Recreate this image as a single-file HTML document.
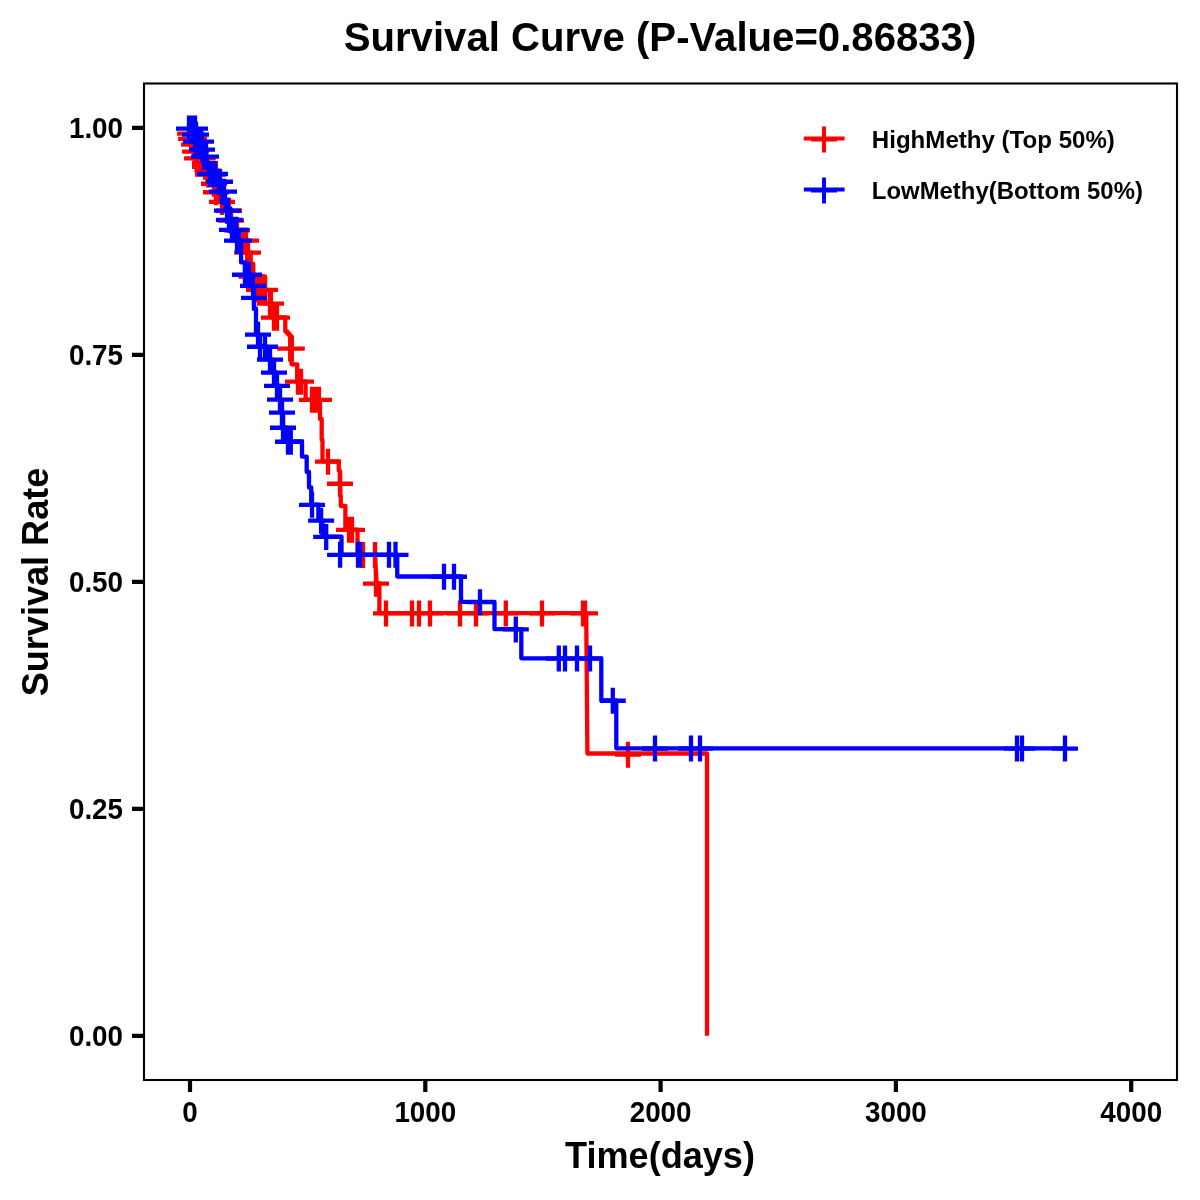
<!DOCTYPE html>
<html lang="en">
<head>
<meta charset="utf-8">
<title>Survival Curve (P-Value=0.86833)</title>
<style>
html,body{margin:0;padding:0;background:#fff;}
body{width:1200px;height:1200px;overflow:hidden;}
svg{display:block;}
text{font-family:"Liberation Sans",sans-serif;font-weight:bold;fill:#000;}
.title{font-size:40.15px;}
.axt{font-size:36.1px;}
.tick{font-size:27.8px;}
.leg{font-size:24.1px;}
</style>
</head>
<body>
<svg width="1200" height="1200" viewBox="0 0 1200 1200">
<rect x="0" y="0" width="1200" height="1200" fill="#ffffff"/>
<text class="title" transform="translate(660 51.2) scale(1 1.02)" text-anchor="middle">Survival Curve (P-Value=0.86833)</text>
<g fill="none" stroke-linejoin="round" stroke-linecap="butt">
<path d="M190 128.3V133.4H191V138.7H194V144.3H194.5V151.3H196.5V158.2H203V162.8V166.6H207V170.3H208V174.3H213V183.5H215V192H219V201.7H225V210.5H230V220.4H234V230H243.5V240.4H246.5V252.4H250.75V264H253.3V276.3H265V289.6V303.4H272V317.4H285.3V331.5H287.4V333.7H289.4V336H291.2V348.3H291.5V364.3H297.2V381.4H305.6V399.6H320V419H321.7V440H322.5V461.4H338.75V470.8H340V483.5H340.2V495.8H340.8V506H345.4V529.6H357.5V554.6M375 554.6L376.5 583.4H379.4V613.2H586.2L587.4 753.5H707V1035.8" stroke="#ff0000" stroke-width="4.3"/>
<path d="M177.1 133.65h26M190.1 120.65v26M178 133.65h26M191 120.65v26M178.1 138.95h26M191.1 125.95v26M181 138.95h26M194 125.95v26M181.1 144.55h26M194.1 131.55v26M182.1 151.55h26M195.1 138.55v26M183 151.55h26M196 138.55v26M184.1 158.45h26M197.1 145.45v26M189.75 158.45h26M202.75 145.45v26M192 163.05h26M205 150.05v26M192 166.85h26M205 153.85v26M194.5 170.55h26M207.5 157.55v26M195 174.55h26M208 161.55v26M199.8 174.55h26M212.8 161.55v26M201 183.75h26M214 170.75v26M203 192.25h26M216 179.25v26M209 201.95h26M222 188.95v26M216 210.75h26M229 197.75v26M218 220.65h26M231 207.65v26M224 230.25h26M237 217.25v26M230.5 240.65h26M243.5 227.65v26M233 240.65h26M246 227.65v26M234.2 252.65h26M247.2 239.65v26M235 252.65h26M248 239.65v26M238.5 276.55h26M251.5 263.55v26M246 289.85h26M259 276.85v26M249 289.85h26M262 276.85v26M252 289.85h26M265 276.85v26M257 303.65h26M270 290.65v26M258 303.65h26M271 290.65v26M261 317.65h26M274 304.65v26M262.5 317.65h26M275.5 304.65v26M264 317.65h26M277 304.65v26M277.2 348.55h26M290.2 335.55v26M278.8 348.55h26M291.8 335.55v26M285 381.65h26M298 368.65v26M288 381.65h26M301 368.65v26M299 399.85h26M312 386.85v26M301 399.85h26M314 386.85v26M303 399.85h26M316 386.85v26M306 399.85h26M319 386.85v26M315 461.65h26M328 448.65v26M327 483.75h26M340 470.75v26M336 529.85h26M349 516.85v26M339 529.85h26M352 516.85v26M363 542v26M375 542v26M363 583.65h26M376 570.65v26M373 613.45h26M386 600.45v26M399 613.45h26M412 600.45v26M406 613.45h26M419 600.45v26M417 613.45h26M430 600.45v26M447 613.45h26M460 600.45v26M463 613.45h26M476 600.45v26M492.8 613.45h26M505.8 600.45v26M529 613.45h26M542 600.45v26M570 613.45h26M583 600.45v26M572 613.45h26M585 600.45v26M615 754.7h26M628 741.7v26M257.2 277L257.2 302" stroke="#ff0000" stroke-width="4.3"/>
<path d="M190 128.3H195.5V134.3H197V141.4H201.5V149.3H203.5V156.4H207V165H209V173.75H216V181.5H221V191.4H225V201H226V210.4H229V219.6H231V229.6H237V240.4H241.1V262.4H245V274.5H251V285.6H253.5V297.6H254V308.5H256V334.4H259V346.5H266V359.3H272V372.3H276V385.6H279V399.4H281V412.3H283V427.5H286V441.5H302V456.7H306.7V472H309V487.5H311.25V504.6H318.4V520.4H322.5V536.7H341.5V554.6H397.25V576.5H461V601.9H494.5V629.2H521.3V658.3H601.3V700.5H616.3V748.3H1065" stroke="#0000ff" stroke-width="4.3"/>
<path d="M176 128.55h26M189 115.55v26M178 128.55h26M191 115.55v26M180 128.55h26M193 115.55v26M182 128.55h26M195 115.55v26M182 134.55h26M195 121.55v26M183 134.55h26M196 121.55v26M183 141.65h26M196 128.65v26M185 141.65h26M198 128.65v26M188 141.65h26M201 128.65v26M189 149.55h26M202 136.55v26M191 156.65h26M204 143.65v26M193 156.65h26M206 143.65v26M197 174h26M210 161v26M199 174h26M212 161v26M202 174h26M215 161v26M206 181.75h26M219 168.75v26M207 181.75h26M220 168.75v26M209 191.65h26M222 178.65v26M211 191.65h26M224 178.65v26M214 210.65h26M227 197.65v26M215 210.65h26M228 197.65v26M216 219.85h26M229 206.85v26M217 219.85h26M230 206.85v26M219 229.85h26M232 216.85v26M221 229.85h26M234 216.85v26M223 229.85h26M236 216.85v26M224 240.65h26M237 227.65v26M226 240.65h26M239 227.65v26M232 274.75h26M245 261.75v26M234 274.75h26M247 261.75v26M236 274.75h26M249 261.75v26M240 285.85h26M253 272.85v26M241 297.85h26M254 284.85v26M245 334.65h26M258 321.65v26M247 346.75h26M260 333.75v26M252 346.75h26M265 333.75v26M257 359.55h26M270 346.55v26M261 372.55h26M274 359.55v26M264 385.85h26M277 372.85v26M267 399.65h26M280 386.65v26M269 412.55h26M282 399.55v26M270 427.75h26M283 414.75v26M275 441.75h26M288 428.75v26M277.8 441.75h26M290.8 428.75v26M299 504.85h26M312 491.85v26M308.1 520.65h26M321.1 507.65v26M313.2 536.95h26M326.2 523.95v26M327.1 554.85h26M340.1 541.85v26M345 554.85h26M358 541.85v26M347 554.85h26M360 541.85v26M376 554.85h26M389 541.85v26M382.5 554.85h26M395.5 541.85v26M431 576.75h26M444 563.75v26M441 576.75h26M454 563.75v26M467 602.15h26M480 589.15v26M502.8 629.45h26M515.8 616.45v26M545.8 658.55h26M558.8 645.55v26M552 658.55h26M565 645.55v26M564 658.55h26M577 645.55v26M577 658.55h26M590 645.55v26M599.8 700.75h26M612.8 687.75v26M642 748.55h26M655 735.55v26M678 748.55h26M691 735.55v26M687 748.55h26M700 735.55v26M1004 748.55h26M1017 735.55v26M1009 748.55h26M1022 735.55v26M1052 748.55h26M1065 735.55v26" stroke="#0000ff" stroke-width="4.3"/>
</g>
<rect x="144" y="83.5" width="1033" height="996.5" fill="none" stroke="#000" stroke-width="2.1"/>
<path d="M190 1081v11M425.3 1081v11M660.6 1081v11M895.9 1081v11M1131.2 1081v11M132 127.8h11.5M132 354.8h11.5M132 581.8h11.5M132 808.8h11.5M132 1035.8h11.5" stroke="#000" stroke-width="4.2" fill="none"/>
<text class="tick" transform="translate(190 1122.3) scale(1 1.06)" text-anchor="middle">0</text>
<text class="tick" transform="translate(425.3 1122.3) scale(1 1.06)" text-anchor="middle">1000</text>
<text class="tick" transform="translate(660.6 1122.3) scale(1 1.06)" text-anchor="middle">2000</text>
<text class="tick" transform="translate(895.9 1122.3) scale(1 1.06)" text-anchor="middle">3000</text>
<text class="tick" transform="translate(1131.2 1122.3) scale(1 1.06)" text-anchor="middle">4000</text>
<text class="tick" transform="translate(123 137.9) scale(1 1.06)" text-anchor="end">1.00</text>
<text class="tick" transform="translate(123 364.9) scale(1 1.06)" text-anchor="end">0.75</text>
<text class="tick" transform="translate(123 591.9) scale(1 1.06)" text-anchor="end">0.50</text>
<text class="tick" transform="translate(123 818.9) scale(1 1.06)" text-anchor="end">0.25</text>
<text class="tick" transform="translate(123 1045.9) scale(1 1.06)" text-anchor="end">0.00</text>
<text class="axt" transform="translate(660 1168) scale(1 1.02)" text-anchor="middle">Time(days)</text>
<text class="axt" transform="translate(47.5 582) rotate(-90) scale(1 1.02)" text-anchor="middle">Survival Rate</text>
<path d="M803.8 138.5H844.6M811 139.5h26M824 126.5v26" stroke="#ff0000" stroke-width="4" fill="none"/>
<text class="leg" transform="translate(871.8 148.2) scale(1 1.02)" text-anchor="start">HighMethy (Top 50%)</text>
<path d="M803.8 189.5H844.6M811 190.5h26M824 177.5v26" stroke="#0000ff" stroke-width="4" fill="none"/>
<text class="leg" transform="translate(871.8 198.9) scale(0.993 1.02)" text-anchor="start">LowMethy(Bottom 50%)</text>
</svg>
</body>
</html>
